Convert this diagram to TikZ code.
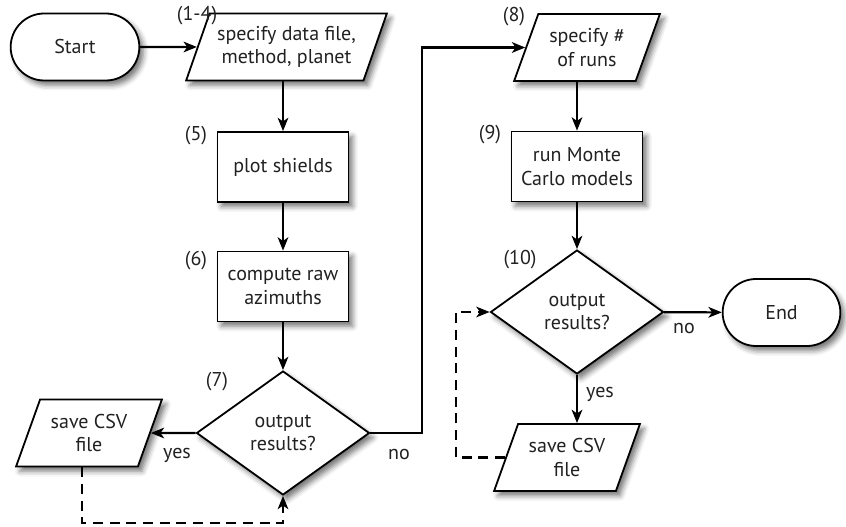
\documentclass[tikz,border=0pt]{standalone}
\usepackage{fontspec}
\setmainfont{PT Sans}
\usetikzlibrary{shapes.geometric,shapes.misc,arrows.meta,shadows.blur}
\newdimen\pxu \pxu=0.75pt
\newcommand\fsz{\fontsize{15pt}{17.5pt}\selectfont}
\definecolor{txt}{gray}{0.13}
\tikzset{
  base/.style={draw=black, line width=1.35pt, fill=white, text=txt, font=\fsz, align=center, inner sep=2pt,
    blur shadow={shadow xshift=3pt, shadow yshift=-3.5pt, shadow blur radius=4pt, shadow opacity=55}},
  term/.style={base, rounded rectangle, minimum width=134\pxu, minimum height=67\pxu},
  proc/.style={base, rectangle, minimum width=131\pxu, minimum height=70\pxu},
  io/.style={base, trapezium, trapezium left angle=65, trapezium right angle=115,
    trapezium stretches=true, minimum width=#1, minimum height=67\pxu},
  dec/.style={base, diamond, minimum width=173\pxu, minimum height=124\pxu, inner sep=0pt},
  arr/.style={line width=1.6pt, -{Stealth[length=10pt,width=8pt,inset=2.8pt]}},
  darr/.style={arr, dash pattern=on 7.5pt off 5pt},
  lab/.style={font=\fsz, text=txt, inner sep=0pt},
}
\begin{document}
\begin{tikzpicture}[x=0.75pt,y=-0.75pt]
\useasboundingbox (0,0) rectangle (846,527);
% nodes
\node[term] (start) at (75,47) {Start};
\node[io=201\pxu] (p1) at (286.5,47) {specify data file,\\method, planet};
\node[proc] (b5) at (283,167) {plot shields};
\node[proc] (b6) at (283,286.5) {compute raw\\azimuths};
\node[dec] (d7) at (283,433) {output\\results?};
\node[io=146\pxu] (s1) at (89,433) {save CSV\\file};
\node[io=146\pxu] (p8) at (587,47.5) {specify \#\\of runs};
\node[proc] (b9) at (577,166.5) {run Monte\\Carlo models};
\node[dec] (d10) at (577,312) {output\\results?};
\node[term, minimum width=123\pxu] (end) at (781.5,312.5) {End};
\node[io=146\pxu] (s2) at (567,457.5) {save CSV\\file};
% step labels
\node[lab] (l14) at (197,16) {(1-4)};
\node[lab] (l5) at (196,136) {(5)};
\node[lab] (l6) at (196,261) {(6)};
\node[lab] (l7) at (217,382) {(7)};
\node[lab] (l8) at (514,17) {(8)};
\node[lab] (l9) at (490,135) {(9)};
\node[lab] (l10) at (520,260) {(10)};
% connectors
\draw[arr] (start) -- (p1);
\draw[arr] (p1.south -| b5.north) -- (b5.north);
\draw[arr] (b5) -- (b6);
\draw[arr] (b6) -- (d7);
\draw[arr] (d7) -- (s1);
\coordinate (k) at (422,433);
\draw[arr] (d7.east) -- (k) |- (p8.west);
\draw[arr] (p8.south -| b9.north) -- (b9.north);
\draw[arr] (b9) -- (d10);
\draw[arr] (d10) -- (end);
\draw[arr] (d10.south) -- (d10.south |- s2.north);
\coordinate (c1) at (82,523);
\draw[darr] (s1.south -| c1) -- (c1) -| (d7.south);
\coordinate (c2) at (456,452);
\draw[darr] (s2.west) -- (s2.west -| c2) |- (d10.west);
% connector labels
\node[lab] (y7) at (177,455) {yes};
\node[lab] (n7) at (399,454) {no};
\node[lab] (n10) at (684,329) {no};
\node[lab] (y10) at (600,394) {yes};
\end{tikzpicture}
\end{document}
